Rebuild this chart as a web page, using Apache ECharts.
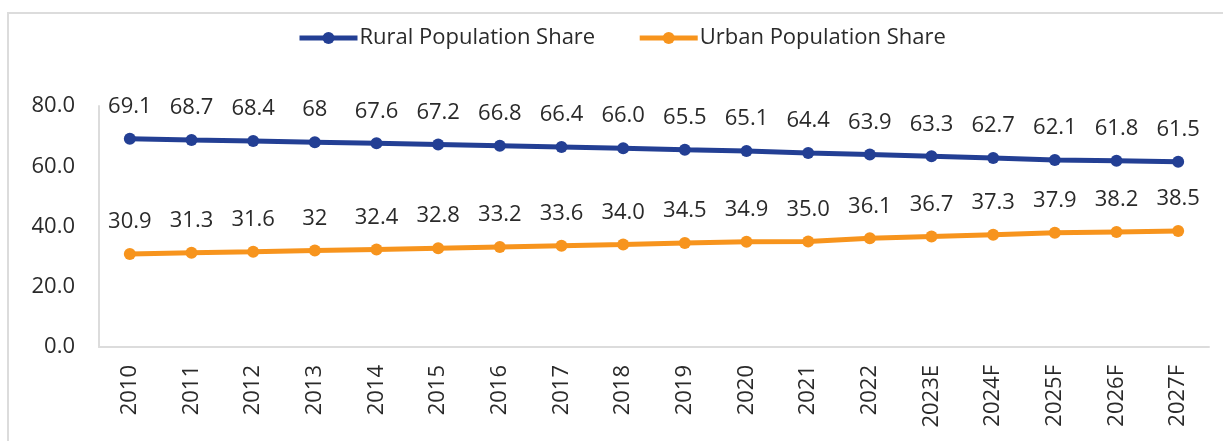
<!DOCTYPE html>
<html>
<head>
<meta charset="utf-8">
<script src="https://cdn.jsdelivr.net/npm/echarts@6/dist/echarts.min.js"></script>
<style>
  html, body { margin: 0; padding: 0; background: #fff; }
  #frame { position: absolute; left: 7px; top: 12px; width: 1230px; height: 440px;
           border-top: 2px solid #dcdcdc; border-left: 2px solid #dcdcdc; }
  #chart { position: absolute; left: 0; top: 0; width: 1223px; height: 441px; }
</style>
</head>
<body>
<div id="frame"></div>
<div id="chart"></div>
<script>
const categories = ['2010','2011','2012','2013','2014','2015','2016','2017','2018','2019','2020','2021','2022','2023E','2024F','2025F','2026F','2027F'];
const ruralValues = [69.1, 68.7, 68.4, 68, 67.6, 67.2, 66.8, 66.4, 66.0, 65.5, 65.1, 64.4, 63.9, 63.3, 62.7, 62.1, 61.8, 61.5];
const ruralLabels = ['69.1','68.7','68.4','68','67.6','67.2','66.8','66.4','66.0','65.5','65.1','64.4','63.9','63.3','62.7','62.1','61.8','61.5'];
const urbanValues = [30.9, 31.3, 31.6, 32, 32.4, 32.8, 33.2, 33.6, 34.0, 34.5, 34.9, 35.0, 36.1, 36.7, 37.3, 37.9, 38.2, 38.5];
const urbanLabels = ['30.9','31.3','31.6','32','32.4','32.8','33.2','33.6','34.0','34.5','34.9','35.0','36.1','36.7','37.3','37.9','38.2','38.5'];
const yMin = 0, yMax = 80, yInterval = 20;

const FONT = 'Open Sans';
const TEXT = '#2a2a2a';
const AXIS = '#dcdcdc';

const chart = echarts.init(document.getElementById('chart'), null, { renderer: 'canvas' });

function lineSeries(name, values, labels, color) {
  return {
    name: name,
    type: 'line',
    data: values,
    symbol: 'circle',
    symbolSize: 12,
    lineStyle: { color: color, width: 5 },
    itemStyle: { color: color },
    label: {
      show: true,
      position: 'top',
      distance: 15,
      color: TEXT,
      fontFamily: FONT,
      fontSize: 22,
      formatter: p => labels[p.dataIndex]
    },
    emphasis: { disabled: true },
    animation: false
  };
}

chart.setOption({
  animation: false,
  legend: {
    top: 27,
    left: 297,
    padding: 0,
    itemWidth: 58,
    itemHeight: 15,
    itemGap: 42,
    lineStyle: { width: 5 },
    itemStyle: { borderWidth: 0 },
    textStyle: { color: TEXT, fontFamily: FONT, fontSize: 22, padding: [0, 0, 0, -3] },
    data: ['Rural Population Share', 'Urban Population Share']
  },
  grid: { left: 99, right: 14, top: 106, bottom: 94, containLabel: false },
  xAxis: {
    type: 'category',
    data: categories,
    boundaryGap: true,
    axisLine: { lineStyle: { color: AXIS, width: 2 } },
    axisTick: { show: false },
    axisLabel: { rotate: 90, margin: 18, color: TEXT, fontFamily: FONT, fontSize: 22, interval: 0 }
  },
  yAxis: {
    type: 'value',
    min: yMin, max: yMax, interval: yInterval,
    axisLine: { show: true, lineStyle: { color: AXIS, width: 2 } },
    axisTick: { show: false },
    splitLine: { show: false },
    axisLabel: { margin: 24, color: TEXT, fontFamily: FONT, fontSize: 22, formatter: v => v.toFixed(1) }
  },
  series: [
    lineSeries('Rural Population Share', ruralValues, ruralLabels, '#233F94'),
    lineSeries('Urban Population Share', urbanValues, urbanLabels, '#F7941D')
  ]
});
</script>
</body>
</html>
